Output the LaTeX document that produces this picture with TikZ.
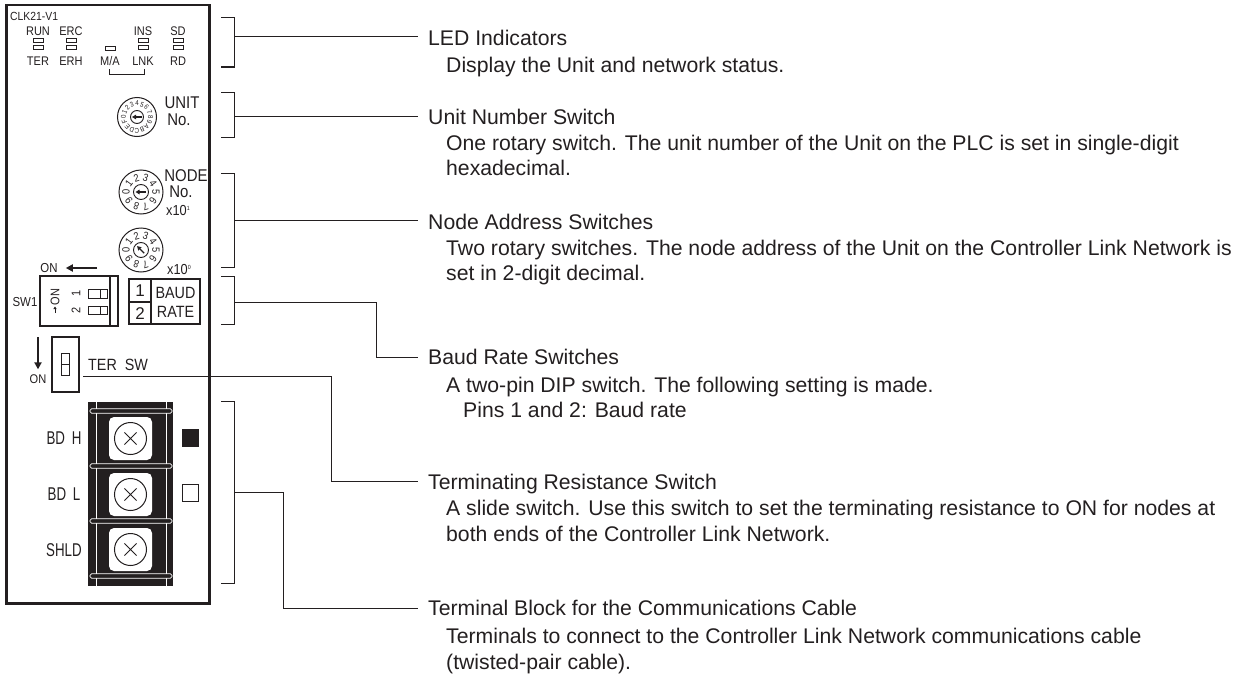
\documentclass[tikz,border=0pt]{standalone}
\usepackage{fontspec}
\setmainfont{Liberation Sans}
\newfontfamily\nar[FakeStretch=0.88]{Liberation Sans}
\newfontfamily\narr[FakeStretch=0.72]{Liberation Sans}
\usetikzlibrary{arrows.meta}
\definecolor{ink}{HTML}{231F20}
\tikzset{
  every node/.style={text=ink},
  panelline/.style={draw=ink, line width=2.2pt},
  part/.style={draw=ink, line width=1.2pt},
  thinpart/.style={draw=ink, line width=0.8pt},
  leader/.style={draw=ink, line width=1pt},
  bracket/.style={draw=ink, line width=1pt},
  ttl/.style={font=\fontsize{21.2}{25}\selectfont, anchor=base west, inner sep=0},
  bodytxt/.style={font=\fontsize{21.2}{25}\selectfont, anchor=base west, inner sep=0},
  tiny/.style={font=\nar\fontsize{12.5}{13}\selectfont, inner sep=0},
  small/.style={font=\nar\fontsize{13}{13}\selectfont, inner sep=0},
  med/.style={font=\nar\fontsize{17}{17}\selectfont, inner sep=0},
  tblbl/.style={font=\narr\fontsize{18.5}{19}\selectfont, inner sep=0},
  led/.style={draw=ink, line width=0.8pt, minimum width=10pt, minimum height=4pt, inner sep=0},
  dial/.style={draw=ink, circle, line width=1pt, inner sep=0},
  hub/.style={draw=ink, circle, line width=0.9pt, inner sep=0},
  udig/.style={font=\nar\fontsize{7}{7}\selectfont, inner sep=0},
  ndig/.style={font=\nar\fontsize{10.5}{10.5}\selectfont, inner sep=0},
  fatarrow/.style={draw=ink, line width=2pt, -{Triangle[length=7pt,width=7pt]}},
  hubarrow/.style={draw=ink, line width=1.4pt, -{Triangle[length=4pt,width=4.5pt]}},
  screw/.style={draw=ink, circle, line width=1pt, minimum size=32pt, inner sep=0, fill=white},
}
\begin{document}
\begin{tikzpicture}[x=1pt,y=-1pt]
\useasboundingbox (0,0) rectangle (1244,677);

% ---------- unit panel ----------
\draw[panelline] (6.5,5) rectangle (209.5,603.5);

% LED indicators
\node[tiny, anchor=west, font=\nar\fontsize{11.8}{12}\selectfont] (clk) at (10,16) {CLK21-V1};
\node[tiny] (run) at (38,31) {RUN};
\node[tiny] (erc) at (71,31) {ERC};
\node[tiny] (ins) at (143,31) {INS};
\node[tiny] (sd)  at (178,31) {SD};
\node[tiny] (ter) at (38,61.5) {TER};
\node[tiny] (erh) at (71,61.5) {ERH};
\node[tiny] (ma)  at (110,61.5) {M/A};
\node[tiny] (lnk) at (143,61.5) {LNK};
\node[tiny] (rd)  at (178,61.5) {RD};
\foreach \xx/\nm in {38/a,71/b,143/c,178/d}{
  \node[led] (ledu\nm) at (\xx,40) {};
  \node[led] (ledl\nm) at (\xx,47) {};
}
\node[led] (ledma) at (110,48.5) {};
\draw[thinpart] (109,69) -- (109,74) -- (144,74) -- (144,69);

% unit number rotary switch
\node[dial, minimum size=39pt] (ud) at (137,117) {};
\node[hub, minimum size=13pt] (uh) at (ud.center) {};
\draw[hubarrow] ([xshift=4.5pt]uh.center) -- ([xshift=-5pt]uh.center);
\foreach \d [count=\k from 0] in {0,1,2,3,4,5,6,7,8,9,A,B,C,D,E,F}{
  \pgfmathsetmacro\aa{180-22.5*\k}
  \node[udig, rotate=\aa-90] (udig\k) at ([shift={(-\aa:13.5)}]ud.center) {\d};
}
\node[med] (unitlbl) at (182,103) {UNIT};
\node[med] (unitno) at (179,119.5) {No.};

% node address rotary switches
\node[dial, minimum size=44pt] (na) at (141,192) {};
\node[hub, minimum size=15pt] (nah) at (na.center) {};
\draw[hubarrow] ([xshift=5pt]nah.center) -- ([xshift=-5.5pt]nah.center);
\node[dial, minimum size=44pt] (nb) at (141,250) {};
\node[hub, minimum size=15pt] (nbh) at (nb.center) {};
\draw[hubarrow] ([shift={(45:4.5)}]nbh.center) -- ([shift={(-135:5.5)}]nbh.center);
\foreach \d in {0,...,9}{
  \pgfmathsetmacro\aa{180-36*\d}
  \node[ndig, rotate=\aa-90] (nadig\d) at ([shift={(-\aa:15)}]na.center) {\d};
  \node[ndig, rotate=\aa-90] (nbdig\d) at ([shift={(-\aa:15)}]nb.center) {\d};
}
\node[med] (nodelbl) at (186,176) {NODE};
\node[med] (nodeno) at (181,192) {No.};
\node[med, font=\nar\fontsize{14.5}{14.5}\selectfont] (xa) at (178,210.5) {x10\raisebox{5pt}{\fontsize{6}{6}\selectfont 1}};
\node[med, font=\nar\fontsize{14.5}{14.5}\selectfont] (xb) at (179,269.5) {x10\raisebox{5pt}{\fontsize{6}{6}\selectfont 0}};

% ON arrow (DIP)
\node[small] (onA) at (49,268) {ON};
\coordinate (onAtail) at (97,268);
\draw[fatarrow] (onAtail) -- ([xshift=8pt]onA.east);

% SW1 DIP switch
\node[small] (sw1) at (25,302) {SW1};
\draw[part] (40,276) rectangle (118,326);
\draw[part] (110,276) -- (110,326);
\node[tiny, rotate=90] (dipon) at (55,297) {ON};
\draw[draw=ink, line width=0.8pt, -{Triangle[length=2.5pt,width=3pt]}] (55,313) -- (55,306.5);
\node[tiny, rotate=90] (pin1) at (76,293.5) {1};
\node[tiny, rotate=90] (pin2) at (76,310) {2};
\draw[thinpart] (88,289) rectangle (107,298);
\draw[thinpart] (100,289) -- (100,298);
\draw[thinpart] (88,306) rectangle (107,314.5);
\draw[thinpart] (100,306) -- (100,314.5);

% BAUD RATE table
\draw[part] (129,279) rectangle (200,324);
\draw[part] (151,279) -- (151,324);
\draw[part] (129,302) -- (151,302);
\node[font=\fontsize{17}{17}\selectfont, inner sep=0] (b1) at (140,291) {1};
\node[font=\fontsize{17}{17}\selectfont, inner sep=0] (b2) at (140,313.5) {2};
\node[med, font=\nar\fontsize{16.3}{16.3}\selectfont] (baud) at (175.5,292.5) {BAUD};
\node[med, font=\nar\fontsize{16.3}{16.3}\selectfont] (rate) at (175.5,312) {RATE};

% TER SW slide switch
\coordinate (onBtail) at (38,337);
\node[small, font=\nar\fontsize{12.6}{13}\selectfont] (onB) at (38,379) {ON};
\draw[fatarrow] (onBtail) -- ([yshift=5pt]onB.north);
\draw[part] (52,337) rectangle (79,392);
\draw[thinpart, line width=1pt] (61,353) rectangle (69,375);
\draw[thinpart] (61,364) -- (69,364);
\node[med, font=\nar\fontsize{16.3}{16.3}\selectfont, anchor=west] (tersw) at (88,365) {TER\ \ SW};
\coordinate (terstart) at (83,376);

% Terminal block
\fill[ink] (88,402) rectangle (173,586);
\draw[white, line width=0.6pt] (96,402) -- (96,586) (166,402) -- (166,586);
\foreach \yy in {411,466,521,576}{
  \draw[white, fill=ink, line width=0.7pt, rounded corners=1.5pt] (90,\yy-2.2) rectangle (172,\yy+2.2);
}
\foreach \yy/\nm in {438.5/a,494.5/b,549.5/c}{
  \fill[white, rounded corners=5pt] (109,\yy-21.5) rectangle (152,\yy+21.5);
  \node[screw] (scr\nm) at (130.5,\yy) {};
  \draw[ink, line width=0.9pt] ([shift={(45:8.5)}]scr\nm.center) -- ([shift={(-135:8.5)}]scr\nm.center)
                               ([shift={(135:8.5)}]scr\nm.center) -- ([shift={(-45:8.5)}]scr\nm.center);
}
\node[tblbl] (bdh) at (64,438) {BD\ \,H};
\node[tblbl] (bdl) at (64,494) {BD\ \,L};
\node[tblbl] (shld) at (64,550) {SHLD};
\fill[ink] (182,429) rectangle (199,447);
\draw[part, line width=1pt] (182.5,484.5) rectangle (198.5,501.5);

% ---------- brackets ----------
\draw[bracket] (221,18) -- (234,18) -- (234,67) -- (221,67);
\draw[bracket] (221,92) -- (234,92) -- (234,137) -- (221,137);
\draw[bracket] (221,173) -- (234,173) -- (234,267) -- (221,267);
\draw[bracket] (221,276) -- (234,276) -- (234,324) -- (221,324);
\draw[bracket] (221,401) -- (234,401) -- (234,583) -- (221,583);
\coordinate (bLED) at (234,37);
\coordinate (bUnit) at (234,116);
\coordinate (bNode) at (234,220);
\coordinate (bBaud) at (234,302);
\coordinate (bTB) at (234,492);

% ---------- descriptions ----------
\node[ttl] (tLED) at (428,45.5) {LED Indicators};
\node[bodytxt] (dLED) at (446,72) {Display the Unit and network status.};

\node[ttl] (tUnit) at (428,124.5) {Unit Number Switch};
\node[bodytxt] (dUnitA) at (446,150.5) {One rotary switch. The unit number of the Unit on the PLC is set in single-digit};
\node[bodytxt] (dUnitB) at (446,175.5) {hexadecimal.};

\node[ttl] (tNode) at (428,229.5) {Node Address Switches};
\node[bodytxt] (dNodeA) at (446,255.5) {Two rotary switches. The node address of the Unit on the Controller Link Network is};
\node[bodytxt] (dNodeB) at (446,280.5) {set in 2-digit decimal.};

\node[ttl] (tBaud) at (428,364.5) {Baud Rate Switches};
\node[bodytxt] (dBaudA) at (446,392.5) {A two-pin DIP switch. The following setting is made.};
\node[bodytxt] (dBaudB) at (463,417.5) {Pins 1 and 2: Baud rate};

\node[ttl] (tTer) at (428,489.5) {Terminating Resistance Switch};
\node[bodytxt] (dTerA) at (446,515.5) {A slide switch. Use this switch to set the terminating resistance to ON for nodes at};
\node[bodytxt] (dTerB) at (446,541.5) {both ends of the Controller Link Network.};

\node[ttl] (tTB) at (428,615.5) {Terminal Block for the Communications Cable};
\node[bodytxt] (dTBA) at (446,643.5) {Terminals to connect to the Controller Link Network communications cable};
\node[bodytxt] (dTBB) at (446,669.5) {(twisted-pair cable).};

% ---------- leader lines ----------
\coordinate (eLED) at (418,37);
\coordinate (eUnit) at (418,116);
\coordinate (eNode) at (418,220);
\coordinate (eBaud) at (418,357);
\coordinate (eTer) at (418,481);
\coordinate (eTB) at (418,608);
\draw[leader] (bLED) -- (eLED);
\draw[leader] (bUnit) -- (eUnit);
\draw[leader] (bNode) -- (eNode);
\draw[leader] (bBaud) -| (376,357) -- (eBaud);
\draw[leader] (terstart) -| (331,481) -- (eTer);
\draw[leader] (bTB) -| (283,608) -- (eTB);
\end{tikzpicture}
\end{document}
